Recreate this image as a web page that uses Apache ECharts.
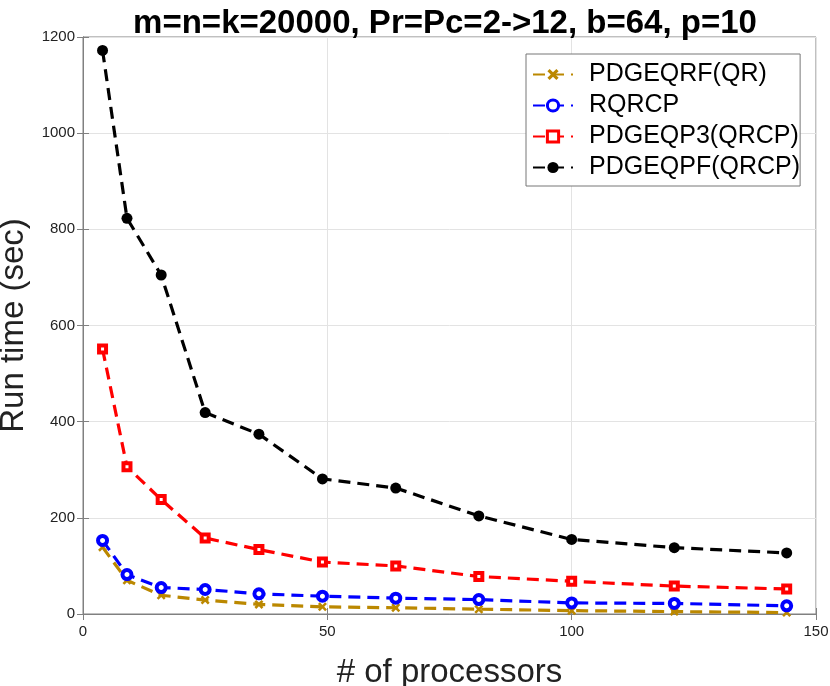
<!DOCTYPE html>
<html>
<head>
<meta charset="utf-8">
<script src="https://cdn.jsdelivr.net/npm/echarts@6/dist/echarts.min.js"></script>
<style>
  html, body { margin: 0; padding: 0; background: #fff; }
  #chart { width: 830px; height: 686px; }
</style>
</head>
<body>
<div id="chart"></div>
<script>
// processors = Pr*Pc, Pr=Pc=2..12
const processors = [4, 9, 16, 25, 36, 49, 64, 81, 100, 121, 144];
const pdgeqrf = [139, 70, 39, 29, 20, 15, 13, 10, 7, 5, 3];
const rqrcp = [153, 82, 55, 51, 42, 37, 33, 30, 23, 22, 17];
const pdgeqp3 = [551, 306, 238, 158, 134, 108, 100, 78, 68, 58, 52];
const pdgeqpf = [1172, 823, 705, 419, 374, 281, 262, 204, 155, 138, 127];

const FONT = 'Liberation Sans, Arial, sans-serif';
const X_MARK = 'path://M2,0L5,3L8,0L10,2L7,5L10,8L8,10L5,7L2,10L0,8L3,5L0,2Z';

const pairs = ys => processors.map((x, i) => [x, ys[i]]);

const mkSeries = (name, ys, color, symbol, size, item) => ({
  name,
  type: 'line',
  data: pairs(ys),
  symbol,
  symbolSize: size,
  showAllSymbol: true,
  lineStyle: { color, width: 3.2, type: [12, 7] },
  itemStyle: item || { color },
  emphasis: { disabled: true },
  animation: false,
});

// hollow markers: white fill, thick coloured edge
const hollow = color => ({ color: '#fff', borderColor: color, borderWidth: 4 });

const chart = echarts.init(document.getElementById('chart'), null, { renderer: 'canvas' });

const axisGray = '#808080';
const gridGray = '#e3e3e3';
const plain = v => String(v);

chart.setOption({
  animation: false,
  title: {
    text: 'm=n=k=20000, Pr=Pc=2->12, b=64, p=10',
    left: 440,
    textAlign: 'center',
    top: 2,
    textStyle: { fontFamily: FONT, fontWeight: 'bold', fontSize: 33, color: '#000' },
  },
  grid: {
    left: 83, right: 14, top: 37, bottom: 72,
    outerBoundsMode: 'none',
    containLabel: false,
    show: true, borderColor: axisGray, borderWidth: 1,
  },
  legend: {
    orient: 'vertical',
    left: 526, top: 54,
    padding: [8, 0, 6, 6],
    itemWidth: 40, itemHeight: 14, itemGap: 6,
    backgroundColor: '#fff',
    borderColor: '#777', borderWidth: 1,
    textStyle: { fontFamily: FONT, fontSize: 25, color: '#000', padding: [0, 0, 0, 11] },
    data: [
      { name: 'PDGEQRF(QR)' },
      { name: 'RQRCP', itemStyle: { borderWidth: 3 } },
      { name: 'PDGEQP3(QRCP)', itemStyle: { borderWidth: 3 } },
      { name: 'PDGEQPF(QRCP)' },
    ],
  },
  xAxis: [
    {
      type: 'value', min: 0, max: 150, interval: 50,
      name: '# of processors', nameLocation: 'middle', nameGap: 42,
      nameTextStyle: { fontFamily: FONT, fontSize: 33, color: '#222' },
      axisLine: { show: true, lineStyle: { color: axisGray } },
      axisTick: { show: true, inside: true, length: 6, lineStyle: { color: axisGray } },
      axisLabel: { fontFamily: FONT, fontSize: 15, color: '#222', margin: 10, formatter: plain },
      splitLine: { show: true, lineStyle: { color: gridGray } },
    },
    {
      type: 'value', min: 0, max: 150, interval: 50, position: 'top',
      axisLine: { show: true, lineStyle: { color: axisGray } },
      axisTick: { show: true, inside: true, length: 6, lineStyle: { color: axisGray } },
      axisLabel: { show: false },
      splitLine: { show: false },
    },
  ],
  yAxis: [
    {
      type: 'value', min: 0, max: 1200, interval: 200,
      name: 'Run time (sec)', nameLocation: 'middle', nameGap: 43,
      nameTextStyle: { fontFamily: FONT, fontSize: 33, color: '#222' },
      axisLine: { show: true, lineStyle: { color: axisGray } },
      axisTick: { show: true, inside: true, length: 6, lineStyle: { color: axisGray } },
      axisLabel: { fontFamily: FONT, fontSize: 15, color: '#222', margin: 8, formatter: plain },
      splitLine: { show: true, lineStyle: { color: gridGray } },
    },
    {
      type: 'value', min: 0, max: 1200, interval: 200, position: 'right',
      axisLine: { show: true, lineStyle: { color: axisGray } },
      axisTick: { show: true, inside: true, length: 6, lineStyle: { color: axisGray } },
      axisLabel: { show: false },
      splitLine: { show: false },
    },
  ],
  series: [
    mkSeries('PDGEQRF(QR)', pdgeqrf, '#BB8800', X_MARK, 9),
    mkSeries('RQRCP', rqrcp, '#0000FF', 'circle', 9, hollow('#0000FF')),
    mkSeries('PDGEQP3(QRCP)', pdgeqp3, '#FF0000', 'rect', 7, hollow('#FF0000')),
    mkSeries('PDGEQPF(QRCP)', pdgeqpf, '#000000', 'circle', 11),
  ],
});
</script>
</body>
</html>
